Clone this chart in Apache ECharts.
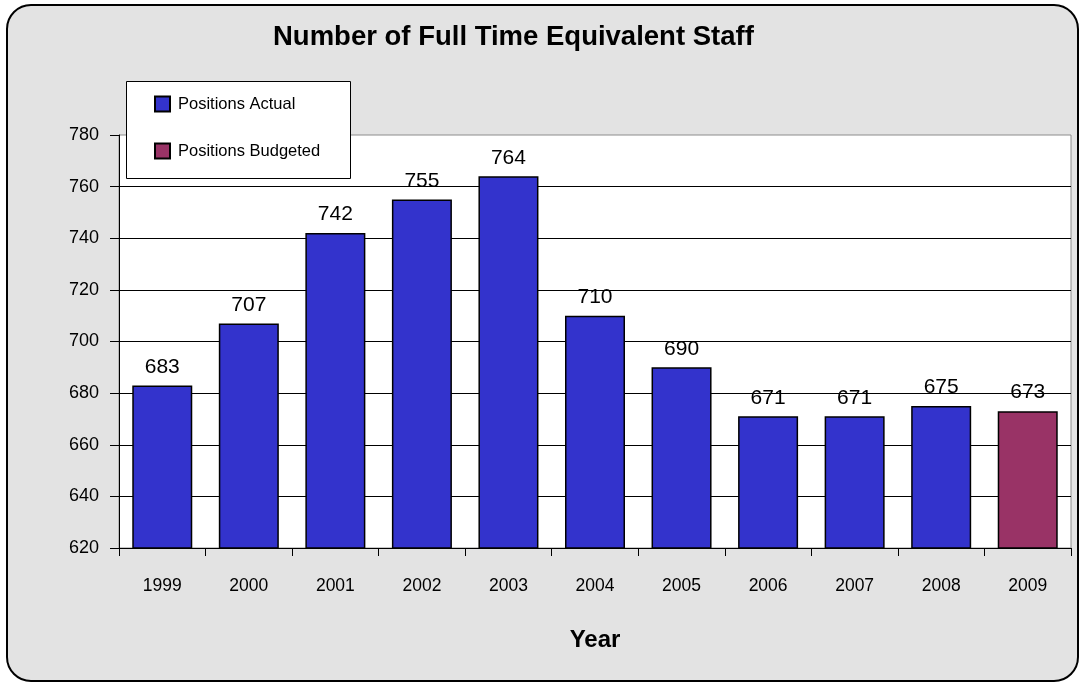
<!DOCTYPE html>
<html>
<head>
<meta charset="utf-8">
<script src="https://cdn.jsdelivr.net/npm/echarts@6/dist/echarts.min.js"></script>
<style>
  html, body { margin: 0; padding: 0; background: #ffffff; }
  #chart { width: 1084px; height: 684px; }
</style>
</head>
<body>
<div id="chart"></div>
<script>
// Fiscal years on the category axis
const years = ['1999', '2000', '2001', '2002', '2003', '2004', '2005', '2006', '2007', '2008', '2009'];
// Full time equivalent positions filled (actual) per year
const positionsActual = [683, 707, 742, 755, 764, 710, 690, 671, 671, 675, null];
// Positions budgeted for the current year
const positionsBudgeted = [null, null, null, null, null, null, null, null, null, null, 673];
// Value axis range and step
const yMin = 620;
const yMax = 780;
const yStep = 20;

const FONT = '"Liberation Sans", Arial, sans-serif';

const chart = echarts.init(document.getElementById('chart'), null, { renderer: 'canvas' });

const labelStyle = {
  show: true,
  position: 'top',
  distance: 8,
  color: '#000',
  fontFamily: FONT,
  fontSize: 21
};

chart.setOption({
  backgroundColor: '#ffffff',
  animation: false,
  graphic: [
    {
      // rounded chart frame
      type: 'rect',
      z: -10,
      silent: true,
      shape: { x: 7, y: 5, width: 1071, height: 676, r: 24 },
      style: { fill: '#e3e3e3', stroke: '#000', lineWidth: 2 }
    },
    {
      // legend box, sits over the top-left of the plot
      type: 'rect',
      z: 10,
      silent: true,
      shape: { x: 126.5, y: 81.5, width: 224, height: 97 },
      style: { fill: '#ffffff', stroke: '#000', lineWidth: 1 }
    }
  ],
  title: {
    text: 'Number of Full Time Equivalent Staff',
    left: 268,
    top: 18,
    textStyle: { fontFamily: FONT, fontSize: 27.5, fontWeight: 'bold', color: '#000' }
  },
  legend: {
    orient: 'vertical',
    left: 127,
    top: 81,
    padding: [13, 10, 10, 27],
    itemGap: 27,
    itemWidth: 15,
    itemHeight: 15,
    icon: 'rect',
    z: 20,
    textStyle: { fontFamily: FONT, fontSize: 16.5, lineHeight: 20, color: '#000', padding: [0, 0, 0, 3] },
    data: ['Positions Actual', 'Positions Budgeted']
  },
  grid: {
    left: 119,
    right: 13,
    top: 135,
    bottom: 136,
    show: true,
    backgroundColor: '#ffffff',
    borderColor: '#8c8c8c',
    borderWidth: 1
  },
  xAxis: {
    type: 'category',
    data: years,
    name: 'Year',
    nameLocation: 'middle',
    nameGap: 80,
    nameTextStyle: { fontFamily: FONT, fontSize: 24, fontWeight: 'bold', color: '#000' },
    axisLine: { lineStyle: { color: '#000', width: 1 } },
    axisTick: { show: true, length: 8, inside: false, lineStyle: { color: '#000' } },
    axisLabel: { fontFamily: FONT, fontSize: 17.5, color: '#000', margin: 29 }
  },
  yAxis: {
    type: 'value',
    min: yMin,
    max: yMax,
    interval: yStep,
    axisLine: { show: true, lineStyle: { color: '#000', width: 1 } },
    axisTick: { show: true, length: 9, lineStyle: { color: '#000' } },
    axisLabel: { fontFamily: FONT, fontSize: 18, color: '#000', margin: 20 },
    splitLine: { show: true, showMaxLine: false, lineStyle: { color: '#000', width: 1 } }
  },
  series: [
    {
      name: 'Positions Actual',
      type: 'bar',
      data: positionsActual,
      barWidth: 60,
      barGap: '-100%',
      itemStyle: { color: '#3333cc', borderColor: '#000', borderWidth: 1.5 },
      label: labelStyle
    },
    {
      name: 'Positions Budgeted',
      type: 'bar',
      data: positionsBudgeted,
      barWidth: 60,
      barGap: '-100%',
      itemStyle: { color: '#993366', borderColor: '#000', borderWidth: 1.5 },
      label: labelStyle
    }
  ]
});
</script>
</body>
</html>
